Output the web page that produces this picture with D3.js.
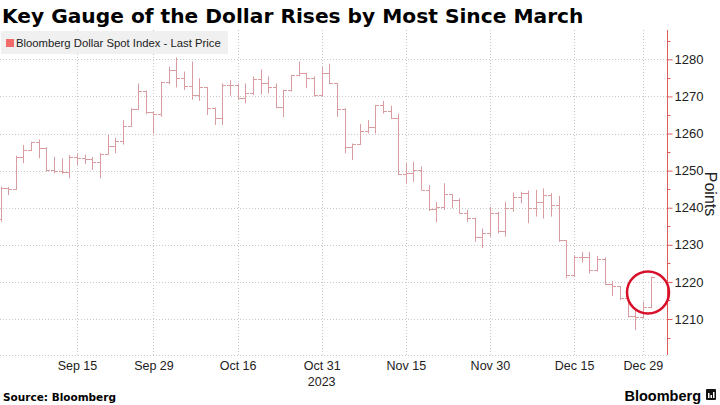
<!DOCTYPE html>
<html>
<head>
<meta charset="utf-8">
<script src="https://cdn.jsdelivr.net/npm/d3@7"></script>
<style>
body {
  margin: 0;
  background: white;
  font-family: "Liberation Sans", Arial, sans-serif;
}
</style>
</head>
<body>
<div id="chart"></div>
<script>
// Bloomberg Dollar Spot Index, daily bars (Sep 1 2023 - Jan 2 2024)
const dates = [
  "2023-09-01","2023-09-04","2023-09-05","2023-09-06","2023-09-07","2023-09-08",
  "2023-09-11","2023-09-12","2023-09-13","2023-09-14","2023-09-15",
  "2023-09-18","2023-09-19","2023-09-20","2023-09-21","2023-09-22",
  "2023-09-25","2023-09-26","2023-09-27","2023-09-28","2023-09-29",
  "2023-10-02","2023-10-03","2023-10-04","2023-10-05","2023-10-06",
  "2023-10-09","2023-10-10","2023-10-11","2023-10-12","2023-10-13",
  "2023-10-16","2023-10-17","2023-10-18","2023-10-19","2023-10-20",
  "2023-10-23","2023-10-24","2023-10-25","2023-10-26","2023-10-27",
  "2023-10-30","2023-10-31","2023-11-01","2023-11-02","2023-11-03",
  "2023-11-06","2023-11-07","2023-11-08","2023-11-09","2023-11-10",
  "2023-11-13","2023-11-14","2023-11-15","2023-11-16","2023-11-17",
  "2023-11-20","2023-11-21","2023-11-22","2023-11-23","2023-11-24",
  "2023-11-27","2023-11-28","2023-11-29","2023-11-30","2023-12-01",
  "2023-12-04","2023-12-05","2023-12-06","2023-12-07","2023-12-08",
  "2023-12-11","2023-12-12","2023-12-13","2023-12-14","2023-12-15",
  "2023-12-18","2023-12-19","2023-12-20","2023-12-21","2023-12-22",
  "2023-12-26","2023-12-27","2023-12-28","2023-12-29","2024-01-02"
];
const open = [
  1237.0,1245.2,1245.0,1253.7,1255.5,1257.6,
  1256.0,1250.2,1250.0,1249.7,1253.8,
  1253.5,1253.0,1252.3,1254.6,1256.7,
  1258.0,1262.0,1266.5,1271.4,1265.9,
  1265.3,1273.9,1277.2,1274.9,1272.7,
  1270.4,1272.5,1267.0,1264.3,1273.0,
  1273.2,1269.5,1270.8,1274.7,1273.5,
  1272.6,1267.1,1271.6,1275.7,1276.3,
  1274.9,1270.4,1276.3,1273.6,1266.7,
  1256.4,1257.1,1260.7,1261.8,1267.6,
  1266.0,1264.3,1249.0,1249.3,1250.2,
  1244.9,1239.7,1240.3,1243.6,1242.2,
  1238.6,1237.3,1232.2,1233.3,1238.7,
  1233.8,1239.8,1242.9,1243.9,1239.8,
  1241.6,1243.5,1240.7,1231.2,1221.9,
  1226.6,1226.8,1223.2,1226.2,1219.4,
  1218.8,1215.6,1210.8,1210.6,1213.2
];
const high = [
  1245.7,1245.6,1254.0,1256.9,1257.8,1258.4,
  1256.3,1253.7,1253.3,1254.2,1254.5,
  1254.3,1253.7,1254.7,1259.6,1258.8,
  1263.6,1266.8,1273.5,1271.6,1266.0,
  1274.0,1278.0,1280.5,1276.7,1279.4,
  1274.9,1272.6,1267.0,1273.5,1274.4,
  1273.5,1273.5,1275.4,1277.3,1275.4,
  1273.5,1271.8,1275.8,1279.4,1276.4,
  1275.4,1278.0,1278.8,1273.6,1266.8,
  1257.3,1262.6,1263.6,1267.7,1268.8,
  1267.5,1265.4,1252.0,1252.4,1251.1,
  1246.1,1241.5,1246.6,1243.6,1242.5,
  1239.4,1237.3,1234.4,1240.3,1238.9,
  1241.6,1244.1,1244.3,1244.6,1244.8,
  1245.2,1243.9,1243.2,1231.3,1227.2,
  1228.0,1228.1,1227.0,1226.6,1220.2,
  1218.8,1215.8,1212.8,1214.7,1221.4
];
const low = [
  1236.2,1243.4,1244.8,1252.0,1255.3,1253.3,
  1249.7,1249.3,1249.1,1247.9,1251.5,
  1251.8,1250.2,1247.9,1254.4,1254.7,
  1257.0,1261.8,1266.3,1265.2,1260.0,
  1264.5,1273.3,1272.4,1271.7,1269.1,
  1268.8,1265.0,1262.3,1262.3,1270.2,
  1269.1,1268.1,1270.4,1270.5,1270.8,
  1266.8,1264.4,1271.3,1275.4,1272.2,
  1270.0,1270.0,1273.3,1264.5,1254.7,
  1252.9,1256.9,1260.0,1260.0,1265.4,
  1263.9,1248.8,1246.6,1247.0,1244.8,
  1239.1,1236.1,1239.4,1239.8,1238.5,
  1236.2,1230.8,1229.1,1232.2,1233.1,
  1232.2,1238.9,1241.2,1235.8,1237.6,
  1237.1,1237.6,1230.8,1221.0,1221.4,
  1225.2,1222.3,1222.8,1219.2,1216.2,
  1215.1,1210.4,1207.0,1210.2,1212.9
];
const close = [
  1245.2,1245.0,1253.7,1255.5,1257.6,1256.0,
  1250.2,1249.8,1249.7,1253.8,1253.5,
  1253.0,1252.3,1254.6,1256.7,1258.0,
  1262.0,1266.5,1271.4,1265.9,1265.3,
  1273.9,1277.2,1274.9,1272.7,1270.4,
  1272.5,1267.0,1264.3,1273.0,1273.2,
  1269.5,1270.8,1274.7,1273.5,1272.6,
  1267.1,1271.6,1275.7,1276.3,1274.9,
  1270.4,1276.3,1273.6,1266.7,1256.4,
  1257.1,1260.7,1261.8,1267.6,1266.0,
  1264.3,1249.0,1249.3,1250.2,1244.9,
  1239.7,1240.3,1243.6,1242.2,1238.6,
  1237.3,1232.2,1233.3,1238.7,1233.8,
  1239.8,1242.9,1243.9,1239.8,1241.6,
  1243.5,1240.7,1231.2,1221.9,1226.6,
  1226.8,1223.2,1226.2,1219.4,1218.8,
  1215.6,1210.8,1210.6,1213.2,1221.4
];

// axis ticks
const xTicks = ["2023-09-15","2023-09-29","2023-10-16","2023-10-31","2023-11-15","2023-11-30","2023-12-15","2023-12-29"];
const yTicks = [1210, 1220, 1230, 1240, 1250, 1260, 1270, 1280];
const yMinor = [1205, 1215, 1225, 1235, 1245, 1255, 1265, 1275, 1285];

const W = 720, H = 405;
const plot = { left: 0, right: 667, top: 30, bottom: 355 };

const svg = d3.select("#chart")
  .append("svg")
  .attr("width", W)
  .attr("height", H);

const xScale = d3.scalePoint()
  .domain(dates)
  .range([0.5, 650.5]);
const yScale = d3.scaleLinear()
  .domain([1200.3, 1287.9])
  .range([plot.bottom, plot.top]);

const parse = d3.timeParse("%Y-%m-%d");
const fmt = d3.timeFormat("%b %-d");

// Title
svg.append("text")
  .attr("x", 2)
  .attr("y", 23)
  .style("font-family", "DejaVu Sans, sans-serif")
  .style("font-size", "20.2px")
  .style("font-weight", "bold")
  .style("fill", "#000")
  .text("Key Gauge of the Dollar Rises by Most Since March");

// Gridlines (dotted)
svg.append("g")
  .selectAll("line")
  .data(yTicks)
  .enter().append("line")
  .attr("x1", plot.left)
  .attr("x2", plot.right)
  .attr("y1", d => Math.round(yScale(d)) + 0.5)
  .attr("y2", d => Math.round(yScale(d)) + 0.5)
  .attr("stroke", "#c8c8c8")
  .attr("stroke-dasharray", "1,2");

svg.append("g")
  .selectAll("line")
  .data(xTicks)
  .enter().append("line")
  .attr("x1", d => Math.round(xScale(d)) + 0.5)
  .attr("x2", d => Math.round(xScale(d)) + 0.5)
  .attr("y1", plot.top)
  .attr("y2", plot.bottom)
  .attr("stroke", "#c8c8c8")
  .attr("stroke-dasharray", "1,2");

// bottom border
svg.append("line")
  .attr("x1", plot.left)
  .attr("x2", plot.right)
  .attr("y1", plot.bottom + 0.5)
  .attr("y2", plot.bottom + 0.5)
  .attr("stroke", "#c8c8c8")
  .attr("stroke-dasharray", "1,2");

// Legend
svg.append("rect")
  .attr("x", 1)
  .attr("y", 31)
  .attr("width", 227)
  .attr("height", 23)
  .attr("fill", "#f0f0f0");
svg.append("rect")
  .attr("x", 6)
  .attr("y", 39)
  .attr("width", 8)
  .attr("height", 8)
  .attr("fill", "#f26b6b");
svg.append("text")
  .attr("x", 16)
  .attr("y", 47)
  .style("font-size", "11.3px")
  .style("fill", "#222")
  .text("Bloomberg Dollar Spot Index - Last Price");

// OHLC bars
const bars = dates.map((d, i) => ({ date: d, o: open[i], h: high[i], l: low[i], c: close[i] }));
const barColor = "#d99ca0";
const bx = d => Math.round(xScale(d.date)) + 0.5;

const g = svg.append("g");
g.selectAll(".hl")
  .data(bars)
  .enter().append("line")
  .attr("x1", bx)
  .attr("x2", bx)
  .attr("y1", d => yScale(d.h))
  .attr("y2", d => yScale(d.l))
  .attr("stroke", barColor);
g.selectAll(".op")
  .data(bars)
  .enter().append("line")
  .attr("x1", d => bx(d) - 3.5)
  .attr("x2", bx)
  .attr("y1", d => Math.round(yScale(d.o)) + 0.5)
  .attr("y2", d => Math.round(yScale(d.o)) + 0.5)
  .attr("stroke", barColor);
g.selectAll(".cl")
  .data(bars)
  .enter().append("line")
  .attr("x1", bx)
  .attr("x2", d => bx(d) + 3.5)
  .attr("y1", d => Math.round(yScale(d.c)) + 0.5)
  .attr("y2", d => Math.round(yScale(d.c)) + 0.5)
  .attr("stroke", barColor);

// Right axis
const axisColor = "#e05c5c";
const yAxis = svg.append("g")
  .attr("transform", `translate(${plot.right + 0.5},0)`)
  .call(d3.axisRight(yScale).tickValues(yTicks).tickSize(5).tickPadding(2)
    .tickFormat(d3.format("d")));
yAxis.select(".domain").attr("stroke", axisColor).attr("d", `M0,${plot.top}V${plot.bottom}`);
yAxis.selectAll(".tick line").attr("stroke", axisColor);
yAxis.selectAll(".tick text")
  .style("font-size", "13px")
  .style("font-family", "Liberation Sans, Arial, sans-serif")
  .attr("fill", "#222");
svg.append("g")
  .attr("transform", `translate(${plot.right + 0.5},0)`)
  .selectAll("line")
  .data(yMinor.filter(v => yScale(v) > plot.top && yScale(v) < plot.bottom))
  .enter().append("line")
  .attr("x1", 0)
  .attr("x2", 3)
  .attr("y1", d => Math.round(yScale(d)) + 0.5)
  .attr("y2", d => Math.round(yScale(d)) + 0.5)
  .attr("stroke", axisColor);

svg.append("text")
  .attr("transform", `translate(705,194) rotate(90)`)
  .attr("text-anchor", "middle")
  .style("font-size", "16px")
  .style("fill", "#222")
  .text("Points");

// Bottom axis labels
const xAxis = svg.append("g")
  .attr("transform", `translate(0,${plot.bottom})`)
  .call(d3.axisBottom(xScale).tickValues(xTicks).tickSize(0).tickPadding(6)
    .tickFormat(d => fmt(parse(d))));
xAxis.select(".domain").remove();
xAxis.selectAll(".tick text")
  .style("font-size", "12.5px")
  .style("font-family", "Liberation Sans, Arial, sans-serif")
  .attr("fill", "#222");
svg.append("text")
  .attr("x", xScale("2023-10-31"))
  .attr("y", 386)
  .attr("text-anchor", "middle")
  .style("font-size", "12.5px")
  .style("fill", "#222")
  .text("2023");

// Highlight last move
const last = bars[bars.length - 1];
svg.append("circle")
  .attr("cx", xScale(last.date) - 2.5)
  .attr("cy", yScale((last.h + last.l) / 2))
  .attr("r", 21)
  .attr("fill", "none")
  .attr("stroke", "#d8102a")
  .attr("stroke-width", 2.5);

// Footer
svg.append("text")
  .attr("x", 3)
  .attr("y", 401)
  .style("font-family", "DejaVu Sans, sans-serif")
  .style("font-size", "10.5px")
  .style("font-weight", "bold")
  .style("fill", "#000")
  .text("Source: Bloomberg");
svg.append("text")
  .attr("x", 701)
  .attr("y", 401)
  .attr("text-anchor", "end")
  .style("font-size", "14.5px")
  .style("font-weight", "bold")
  .style("fill", "#000")
  .text("Bloomberg");
// small logo mark
const logo = svg.append("g").attr("transform", "translate(706,389)");
logo.append("rect")
  .attr("width", 10)
  .attr("height", 11)
  .attr("rx", 1)
  .attr("fill", "#111");
logo.selectAll(".lb")
  .data([[2, 5], [4.5, 3], [7, 6]])
  .enter().append("rect")
  .attr("x", d => d[0])
  .attr("y", d => 9 - d[1])
  .attr("width", 1.5)
  .attr("height", d => d[1])
  .attr("fill", "#fff");
</script>
</body>
</html>
